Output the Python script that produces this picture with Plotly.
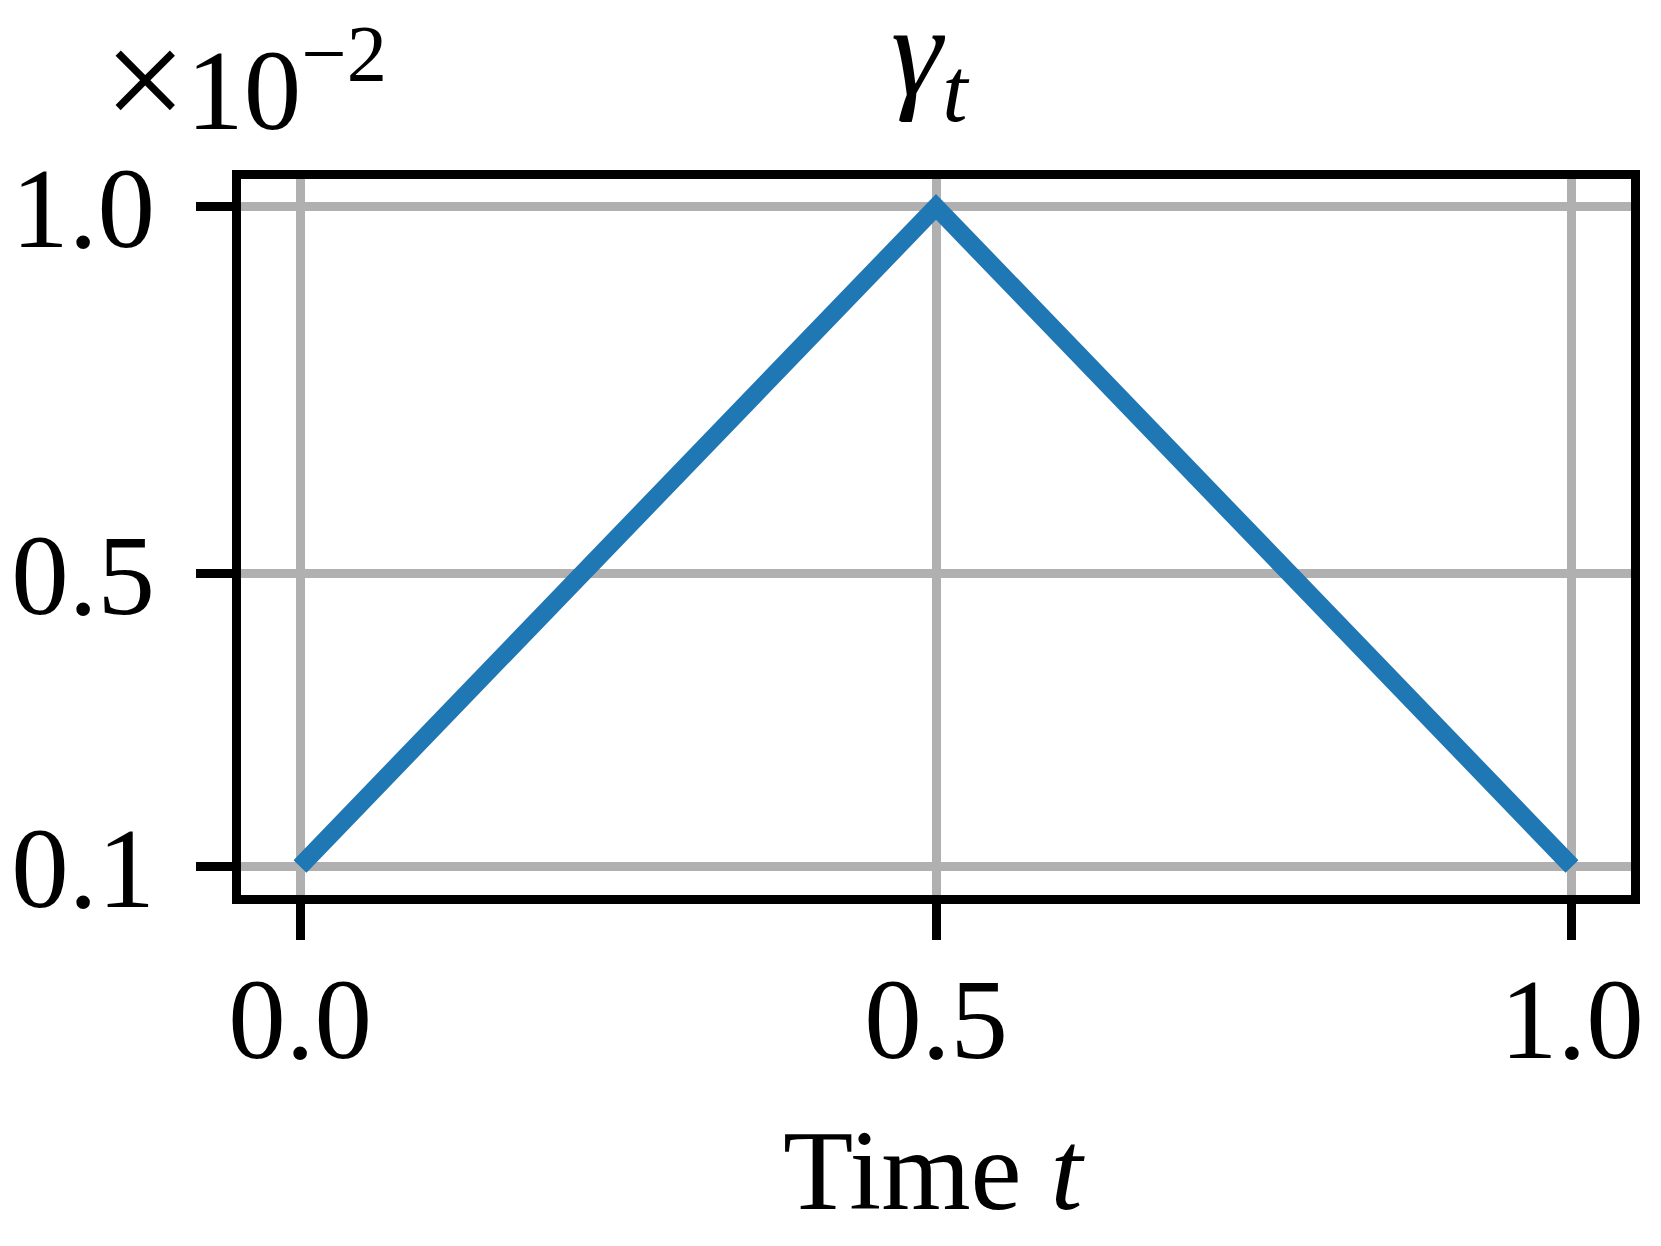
import plotly.graph_objects as go

# data (gamma in units of 1e-2)
t_values = [0.0, 0.5, 1.0]
gamma_values = [0.1, 1.0, 0.1]

x_tickvals = [0.0, 0.5, 1.0]
x_ticktext = ["0.0", "0.5", "1.0"]
y_tickvals = [0.1, 0.5, 1.0]
y_ticktext = ["0.1", "0.5", "1.0"]

FONT = "Liberation Serif, Times New Roman, serif"
FS = 115

fig = go.Figure()
fig.add_trace(go.Scatter(
    x=t_values, y=gamma_values, mode="lines",
    line=dict(color="#1f77b4", width=18),
    showlegend=False,
))

axis_common = dict(
    showline=True, linecolor="black", linewidth=9, mirror=True,
    ticks="outside", ticklen=36, tickwidth=9, tickcolor="black",
    showgrid=True, gridcolor="#b0b0b0", gridwidth=9,
    zeroline=False, automargin=False,
    tickfont=dict(family=FONT, size=FS, color="black"),
)

fig.update_xaxes(range=[-0.0464, 1.0464], tickvals=x_tickvals,
                 ticktext=x_ticktext, ticklabelstandoff=-20, **axis_common)
fig.update_yaxes(range=[0.061, 1.038], tickvals=y_tickvals,
                 ticktext=y_ticktext, ticklabelstandoff=18, **axis_common)

fig.add_annotation(text="<span style='font-size:146px'>×</span>10<sup>−2</sup>",
                   xref="paper", yref="paper",
                   x=-0.1, y=1.023, xanchor="left", yanchor="bottom",
                   showarrow=False, font=dict(family=FONT, size=FS, color="black"))
fig.add_annotation(text="<i>γ</i><sub><i>t</i></sub>", xref="paper", yref="paper",
                   x=0.496, y=1.05, xanchor="center", yanchor="bottom",
                   showarrow=False, font=dict(family=FONT, size=130, color="black"))
fig.add_annotation(text="Time <i>t</i>", xref="paper", yref="paper",
                   x=0.4986, y=-0.476, xanchor="center", yanchor="bottom",
                   showarrow=False, font=dict(family=FONT, size=FS, color="black"))

# page body has an 8px margin, so pull the plot area back by that much
fig.update_layout(
    width=1661, height=1246,
    margin=dict(l=233, r=38, t=171, b=359, autoexpand=False),
    plot_bgcolor="white", paper_bgcolor="white",
)

fig.write_html("out.html")
